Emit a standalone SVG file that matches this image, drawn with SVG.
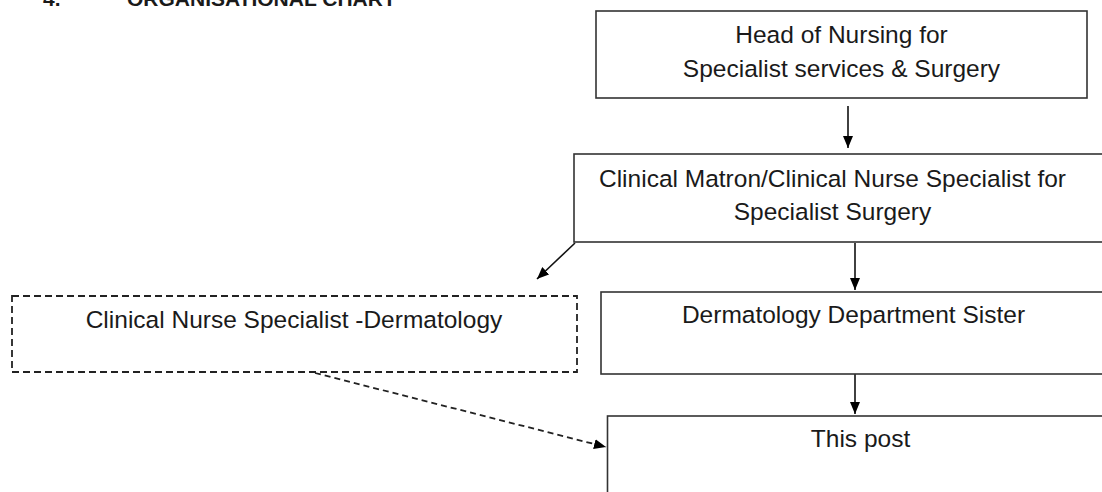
<svg xmlns="http://www.w3.org/2000/svg" width="1102" height="492" viewBox="0 0 1102 492">
<defs>
<style>
.box{fill:#fff;stroke:#333;stroke-width:1.6}
.dbox{fill:#fff;stroke:#222;stroke-width:1.8;stroke-dasharray:7 4}
.t{font-family:"Liberation Sans",Arial,sans-serif;font-size:24.5px;fill:#1a1a1a;text-anchor:middle}
.title{font-family:"Liberation Sans",Arial,sans-serif;font-size:21px;font-weight:bold;fill:#1a1a1a}
.c{stroke:#111;stroke-width:1.6;fill:none}
.cd{stroke:#222;stroke-width:1.8;fill:none;stroke-dasharray:6 4}
</style>
<marker id="ah" viewBox="0 0 12 10" refX="12" refY="5" markerWidth="12" markerHeight="10" markerUnits="userSpaceOnUse" orient="auto">
<path d="M0,0 L12,5 L0,10 z" fill="#000"/>
</marker>
</defs>
<rect width="1102" height="492" fill="#fff"/>
<text class="title" x="43" y="6">4.</text>
<text class="title" x="127" y="6">ORGANISATIONAL CHART</text>

<g id="connectors">
<line class="c" x1="848" y1="106" x2="848" y2="148" marker-end="url(#ah)"/>
<line class="c" x1="575" y1="243" x2="537" y2="279" marker-end="url(#ah)"/>
<line class="c" x1="855" y1="243" x2="855" y2="290" marker-end="url(#ah)"/>
<line class="c" x1="855" y1="368" x2="855" y2="414" marker-end="url(#ah)"/>
<line class="cd" x1="315" y1="373" x2="606" y2="447" marker-end="url(#ah)"/>
</g>

<g id="head">
<rect class="box" x="596" y="11" width="491" height="87"/>
<text class="t" x="841.5" y="43">Head of Nursing for</text>
<text class="t" x="841.5" y="77">Specialist services &amp; Surgery</text>
</g>

<g id="matron">
<rect class="box" x="574" y="154" width="540" height="88"/>
<text class="t" x="832.5" y="187">Clinical Matron/Clinical Nurse Specialist for</text>
<text class="t" x="832.5" y="220">Specialist Surgery</text>
</g>

<g id="cns">
<rect class="dbox" x="12" y="296" width="565" height="76"/>
<text class="t" x="294" y="328">Clinical Nurse Specialist -Dermatology</text>
</g>

<g id="sister">
<rect class="box" x="601" y="292" width="510" height="82"/>
<text class="t" x="853.5" y="323">Dermatology Department Sister</text>
</g>

<g id="post">
<rect class="box" x="607.5" y="416" width="510" height="90"/>
<text class="t" x="860.5" y="447">This post</text>
</g>
</svg>
